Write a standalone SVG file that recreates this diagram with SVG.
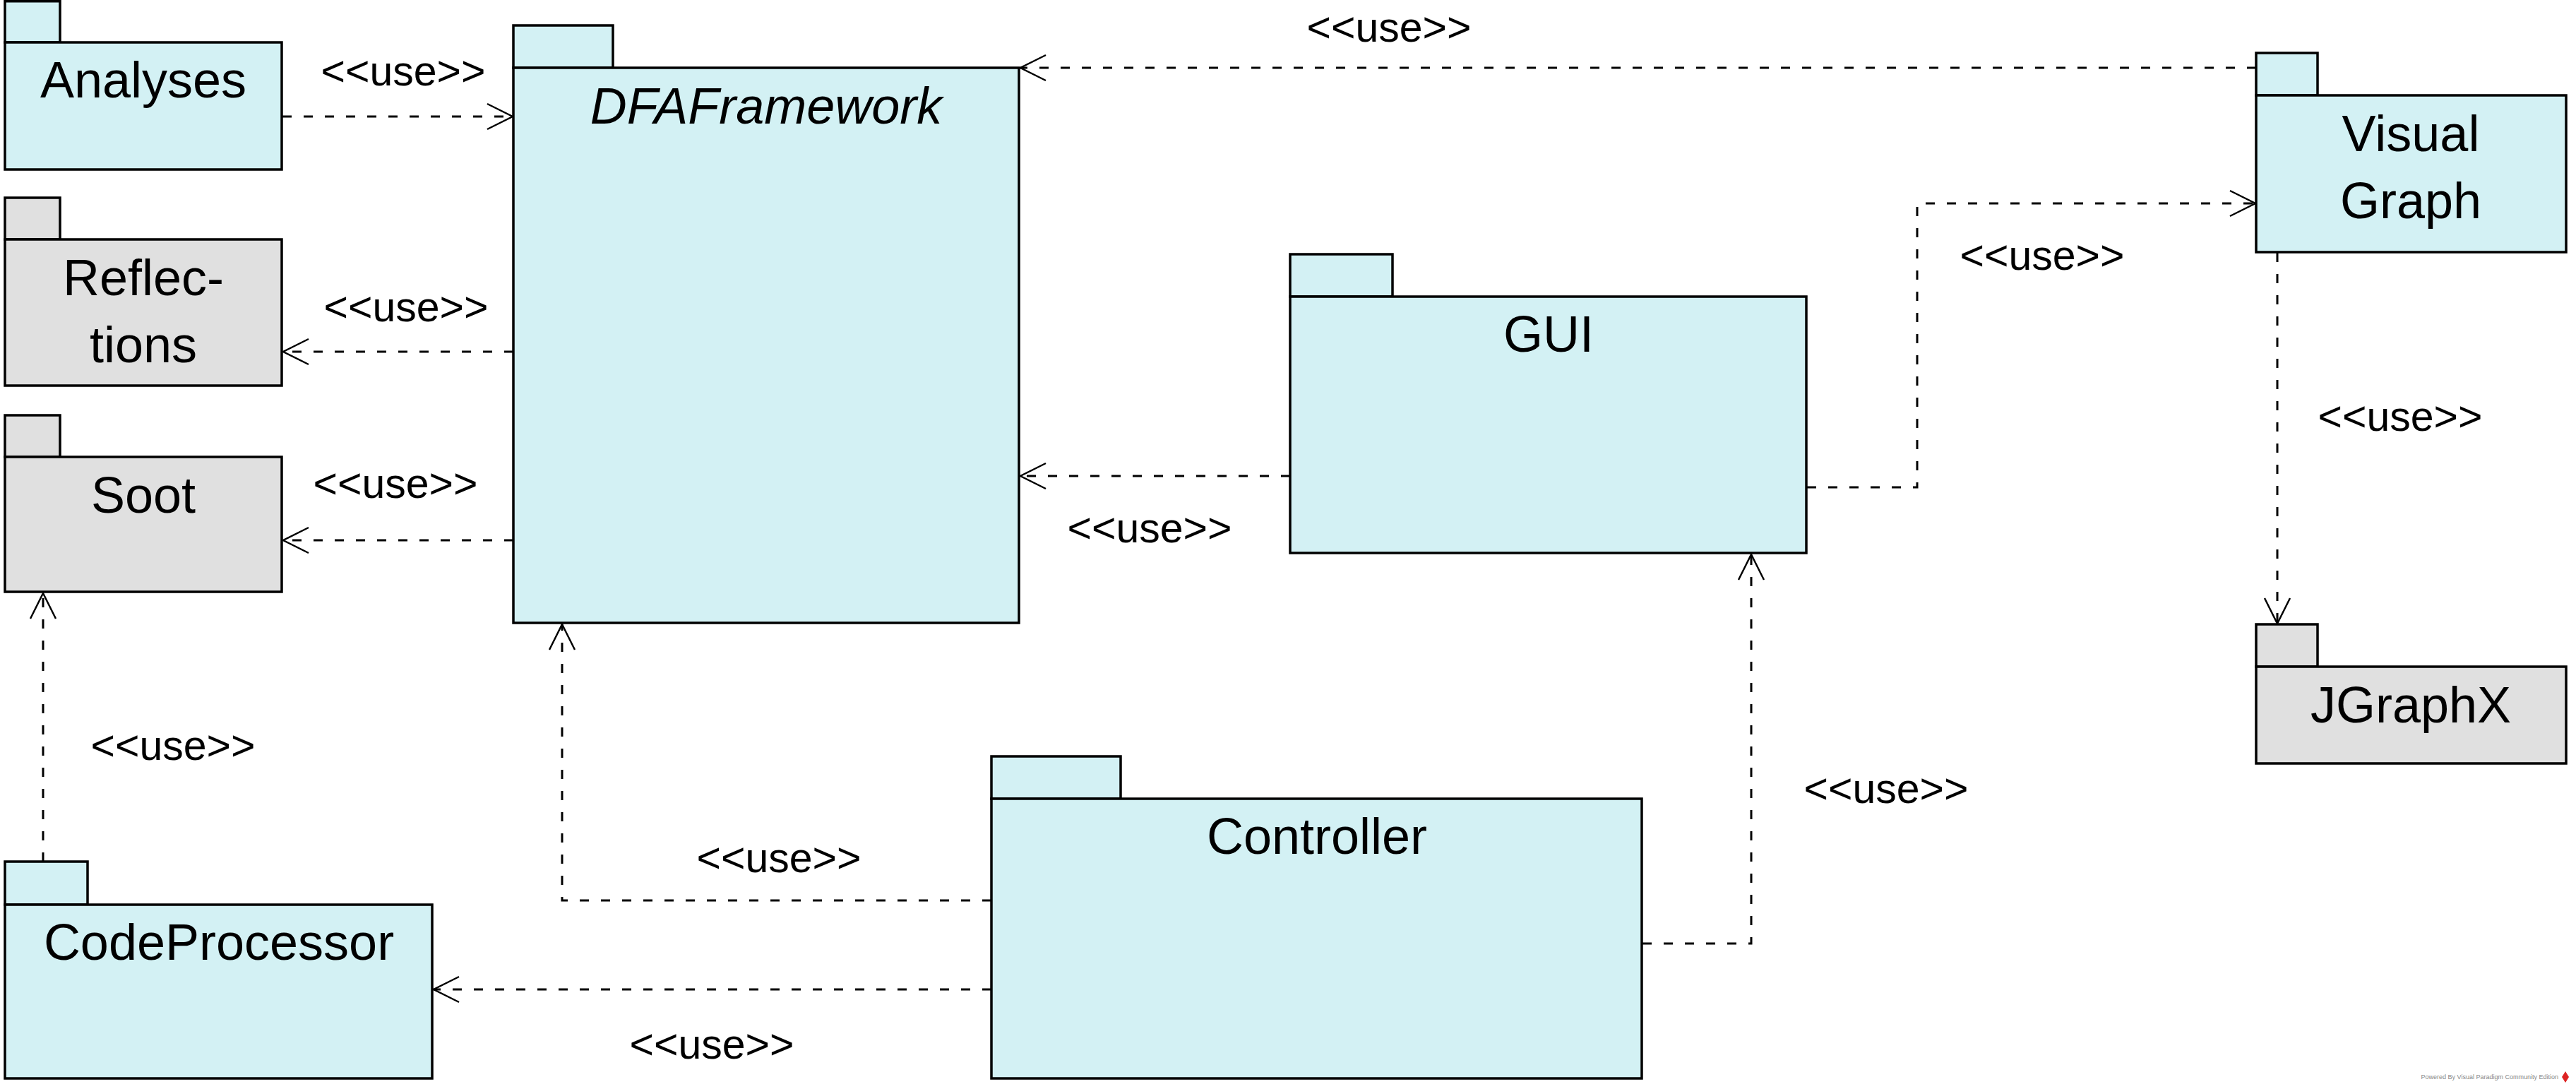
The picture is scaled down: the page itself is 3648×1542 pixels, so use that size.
<svg xmlns="http://www.w3.org/2000/svg" width="3648" height="1542" viewBox="0 0 3648 1542">
<style>
.cy{fill:#D3F1F4;stroke:#000;stroke-width:3.5}
.gr{fill:#E0E0E0;stroke:#000;stroke-width:3.5}
.nm{font-family:"Liberation Sans",Arial,sans-serif;font-size:72px;fill:#000;text-anchor:middle}
.it{font-style:italic}
.lb{font-family:"Liberation Sans",Arial,sans-serif;font-size:59px;fill:#000;text-anchor:middle}
.dep{fill:none;stroke:#000;stroke-width:3;stroke-dasharray:13 17;marker-end:url(#open)}
.wm{font-family:"Liberation Sans",Arial,sans-serif;font-size:9px;fill:#888;text-anchor:end}
</style>
<defs>
<marker id="open" markerUnits="userSpaceOnUse" markerWidth="50" markerHeight="50" viewBox="-40 -25 50 50" refX="0" refY="0" orient="auto">
<path d="M -36 -18 L 0 0 L -36 18" fill="none" stroke="#000" stroke-width="2.5"/>
</marker>
</defs>
<rect width="3648" height="1542" fill="#fff"/>

<g id="connectors">
<path class="dep" d="M 400 165 L 726 165"/>
<text class="lb" x="571" y="121">&lt;&lt;use&gt;&gt;</text>
<path class="dep" d="M 727 498 L 401 498"/>
<text class="lb" x="575" y="455">&lt;&lt;use&gt;&gt;</text>
<path class="dep" d="M 727 765 L 401 765"/>
<text class="lb" x="560" y="705">&lt;&lt;use&gt;&gt;</text>
<path class="dep" d="M 3195 96 L 1445 96"/>
<text class="lb" x="1967" y="59">&lt;&lt;use&gt;&gt;</text>
<path class="dep" d="M 2559 690 L 2715 690 L 2715 288 L 3194 288"/>
<text class="lb" x="2892" y="382">&lt;&lt;use&gt;&gt;</text>
<path class="dep" d="M 1827 674 L 1445 674"/>
<text class="lb" x="1628" y="768">&lt;&lt;use&gt;&gt;</text>
<path class="dep" d="M 3225 358 L 3225 883"/>
<text class="lb" x="3399" y="610">&lt;&lt;use&gt;&gt;</text>
<path class="dep" d="M 2326 1336 L 2480 1336 L 2480 785"/>
<text class="lb" x="2671" y="1137">&lt;&lt;use&gt;&gt;</text>
<path class="dep" d="M 1404 1275 L 796 1275 L 796 884"/>
<text class="lb" x="1103" y="1235">&lt;&lt;use&gt;&gt;</text>
<path class="dep" d="M 1404 1401 L 614 1401"/>
<text class="lb" x="1008" y="1499">&lt;&lt;use&gt;&gt;</text>
<path class="dep" d="M 61 1220 L 61 840"/>
<text class="lb" x="245" y="1076">&lt;&lt;use&gt;&gt;</text>
</g>

<g id="Analyses">
<rect class="cy" x="7" y="1.75" width="78" height="58.25"/>
<rect class="cy" x="7" y="60" width="392" height="180"/>
<text class="nm" x="203" y="138">Analyses</text>
</g>
<g id="Reflections">
<rect class="gr" x="7" y="280" width="78" height="59"/>
<rect class="gr" x="7" y="339" width="392" height="207"/>
<text class="nm" x="203" y="418">Reflec-</text>
<text class="nm" x="203" y="513">tions</text>
</g>
<g id="Soot">
<rect class="gr" x="7" y="588" width="78" height="59"/>
<rect class="gr" x="7" y="647" width="392" height="191"/>
<text class="nm" x="203" y="726">Soot</text>
</g>
<g id="DFAFramework">
<rect class="cy" x="727" y="36" width="141" height="60"/>
<rect class="cy" x="727" y="96" width="716" height="786"/>
<text class="nm it" x="1085" y="175">DFAFramework</text>
</g>
<g id="VisualGraph">
<rect class="cy" x="3195" y="75" width="87" height="60"/>
<rect class="cy" x="3195" y="135" width="439" height="222"/>
<text class="nm" x="3414" y="214">Visual</text>
<text class="nm" x="3414" y="309">Graph</text>
</g>
<g id="GUI">
<rect class="cy" x="1827" y="360" width="145" height="60"/>
<rect class="cy" x="1827" y="420" width="731" height="363"/>
<text class="nm" x="2193" y="498">GUI</text>
</g>
<g id="JGraphX">
<rect class="gr" x="3195" y="884" width="87" height="60"/>
<rect class="gr" x="3195" y="944" width="439" height="137"/>
<text class="nm" x="3414" y="1023">JGraphX</text>
</g>
<g id="CodeProcessor">
<rect class="cy" x="7" y="1220" width="117" height="61"/>
<rect class="cy" x="7" y="1281" width="605" height="246"/>
<text class="nm" x="310" y="1359">CodeProcessor</text>
</g>
<g id="Controller">
<rect class="cy" x="1404" y="1071" width="183" height="60"/>
<rect class="cy" x="1404" y="1131" width="921" height="396"/>
<text class="nm" x="1865" y="1209">Controller</text>
</g>

<g id="watermark">
<text class="wm" x="3623" y="1528">Powered By Visual Paradigm Community Edition</text>
<path d="M 3633 1517 L 3638 1525 L 3633 1533 L 3628 1525 Z" fill="#d22"/>
</g>
</svg>
